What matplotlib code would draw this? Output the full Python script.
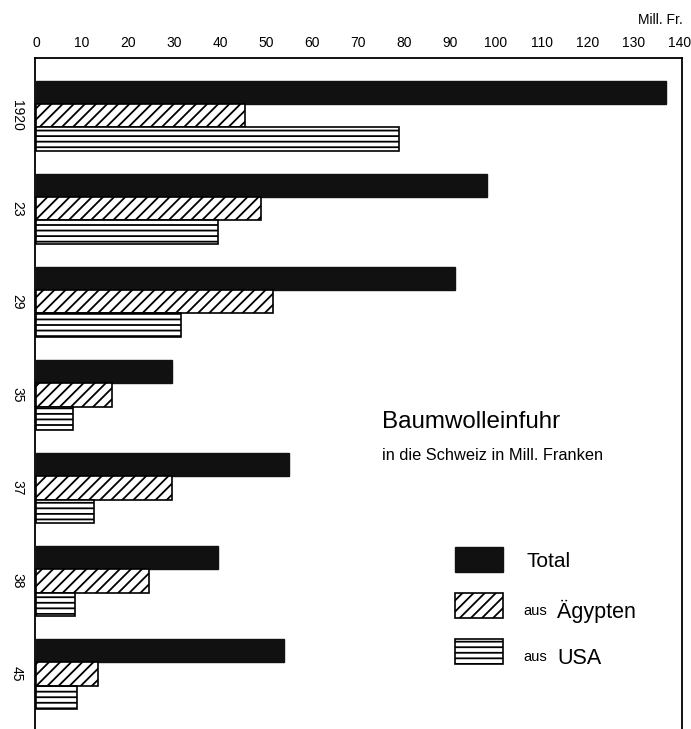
"""Baumwolleinfuhr in die Schweiz - horizontal grouped bars with hatches."""

import numpy as np
import matplotlib
matplotlib.use("Agg")
import matplotlib.pyplot as plt
from matplotlib.patches import Patch

# Data (Mill. Franken)
years = ["1920", "23", "29", "35", "37", "38", "45"]
total = [137, 98, 91, 29.5, 55, 39.5, 54]
aegypten = [45.5, 49, 51.5, 16.5, 29.5, 24.5, 13.5]
usa = [79, 39.5, 31.5, 8, 12.5, 8.5, 9]
xticks = list(range(0, 141, 10))

plt.rcParams["font.family"] = ["Liberation Sans", "DejaVu Sans"]
plt.rcParams["hatch.linewidth"] = 1.3
plt.rcParams["hatch.color"] = "black"

fig = plt.figure(figsize=(6.91, 7.29), dpi=100)
ax = fig.add_axes([35 / 691, 0.0, (682 - 35) / 691, 1 - 58 / 729])

y = np.arange(len(years))
h = 0.25
ax.barh(y - h, total, height=h, color="#111111", edgecolor="#111111", lw=1)
ax.barh(y, aegypten, height=h, facecolor="white", edgecolor="black",
        hatch="///", lw=1.2)
ax.barh(y + h, usa, height=h, facecolor="white", edgecolor="black",
        hatch="---", lw=1.2)

ax.set_xlim(-0.22, 140.43)
ax.set_ylim(6.59, -0.62)

ax.xaxis.tick_top()
ax.set_xticks(xticks)
ax.set_xticklabels([str(v) for v in xticks], fontsize=10)
ax.set_yticks(y)
ax.set_yticklabels(years, rotation=270, fontsize=10, va="center", ha="center")
ax.tick_params(axis="x", length=0, pad=6)
ax.tick_params(axis="y", length=0, pad=13)

for side in ("left", "top", "right"):
    ax.spines[side].set_linewidth(1.3)
ax.spines["bottom"].set_visible(False)

fig.text(683 / 691, 1 - 20 / 729, "Mill. Fr.", fontsize=10,
         ha="right", va="center")

# title block
ax.text(0.536, 0.4575, "Baumwolleinfuhr", transform=ax.transAxes,
        fontsize=17.4, ha="left", va="center")
ax.text(0.536, 0.408, "in die Schweiz in Mill. Franken", transform=ax.transAxes,
        fontsize=11.8, ha="left", va="center")

# legend: swatches only, labels drawn separately (mixed sizes)
handles = [
    Patch(facecolor="#111111", edgecolor="#111111"),
    Patch(facecolor="white", edgecolor="black", hatch="///", lw=1.2),
    Patch(facecolor="white", edgecolor="black", hatch="---", lw=1.2),
]
ax.legend(handles, ["", "", ""], loc="upper left",
          bbox_to_anchor=(0.638, 0.2816), frameon=False,
          handlelength=3.45, handleheight=2.39, labelspacing=1.5,
          borderpad=0, handletextpad=0)

ax.text(0.76, 0.249, "Total", transform=ax.transAxes,
        fontsize=15, ha="left", va="center")
for yy, word in [(0.170, "Ägypten"), (0.102, "USA")]:
    a = ax.text(0.755, yy, "aus", transform=ax.transAxes,
                fontsize=10.5, ha="left", va="baseline")
    ax.annotate(word, xy=(1, 0), xycoords=a, xytext=(7, 0),
                textcoords="offset points", fontsize=15.5,
                ha="left", va="baseline")

fig.savefig("out.png", dpi=100, facecolor="white")
